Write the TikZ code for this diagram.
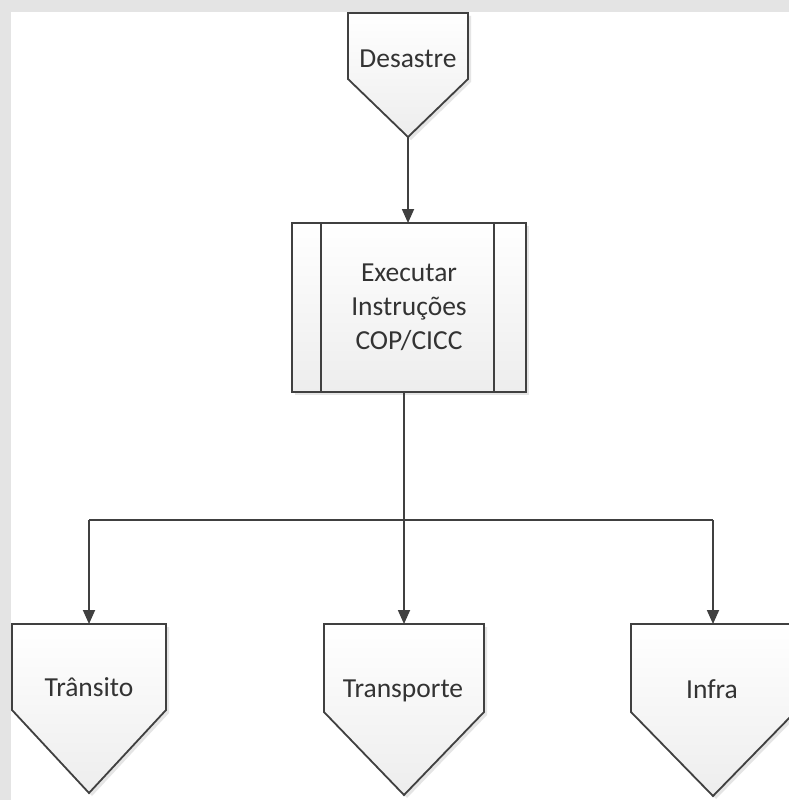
\documentclass[tikz,border=0pt]{standalone}
\usepackage{fontspec}
\setmainfont{Carlito}
\usetikzlibrary{arrows.meta}
\definecolor{edge}{HTML}{404040}
\definecolor{ink}{HTML}{333333}
\definecolor{backdrop}{HTML}{E4E4E4}
\tikzset{
  shapebox/.style={draw=edge, line width=1.8pt, top color=white, bottom color=black!7},
  shadowbox/.style={fill=black!10, draw=none},
  txt/.style={text=ink, font=\fontsize{27.5}{34}\selectfont, align=center, inner sep=0pt},
  conn/.style={draw=edge, line width=1.8pt},
  arrow/.style={conn, -{Triangle[length=14pt,width=12pt]}},
}
% off-page connector: #1 left, #2 right, #3 top, #4 side bottom, #5 tip, #6 name
\newcommand\offpagebox[6]{%
  \begin{scope}[shift={(3,3)}]
    \fill[shadowbox] (#1,#3) -- (#2,#3) -- (#2,#4) -- ({(#1+#2)/2},#5) -- (#1,#4) -- cycle;
  \end{scope}
  \path[shapebox] (#1,#3) -- (#2,#3) -- (#2,#4) -- ({(#1+#2)/2},#5) -- (#1,#4) -- cycle;
  \coordinate (#6-top) at ({(#1+#2)/2},#3);
  \coordinate (#6-tip) at ({(#1+#2)/2},#5);
}
\begin{document}
\begin{tikzpicture}[x=1pt,y=-1pt]
  \useasboundingbox (0,0) rectangle (789,800);
  \clip (0,0) rectangle (789,800);
  % page backdrop
  \fill[backdrop] (0,0) rectangle (789,800);
  \fill[white] (11,12) rectangle (789,800);

  % start symbol
  \offpagebox{348}{468}{13}{79}{137}{des}
  \node[txt, anchor=base] (desl) at (408,67) {Desastre};

  % predefined process
  \fill[shadowbox] (295,226) rectangle (529,395);
  \node[shapebox, txt, minimum width=234pt, minimum height=169pt, outer sep=0pt]
    (exe) at (409,307.5) {Executar\\Instruções\\COP/CICC};
  \draw[conn] ([xshift=29pt]exe.north west) -- ([xshift=29pt]exe.south west);
  \draw[conn] ([xshift=-32pt]exe.north east) -- ([xshift=-32pt]exe.south east);

  % outputs
  \offpagebox{12}{166}{624}{710}{793}{tra}
  \offpagebox{324}{484}{624}{712}{795}{trp}
  \offpagebox{631}{795}{624}{712}{796}{inf}
  \node[txt, anchor=base] (tral) at (89,696) {Trânsito};
  \node[txt, anchor=base] (trpl) at (403,697) {Transporte};
  \node[txt, anchor=base] (infl) at (712,698) {Infra};

  % connectors
  \draw[arrow] (des-tip) -- (des-tip |- exe.north);
  \coordinate (split) at (404,520);
  \draw[conn] (split |- exe.south) -- (split);
  \draw[conn] (tra-top |- split) -- (inf-top |- split);
  \draw[arrow] (split) -- (split |- trp-top);
  \draw[arrow] (tra-top |- split) -- (tra-top);
  \draw[arrow] (inf-top |- split) -- (inf-top);
\end{tikzpicture}
\end{document}
